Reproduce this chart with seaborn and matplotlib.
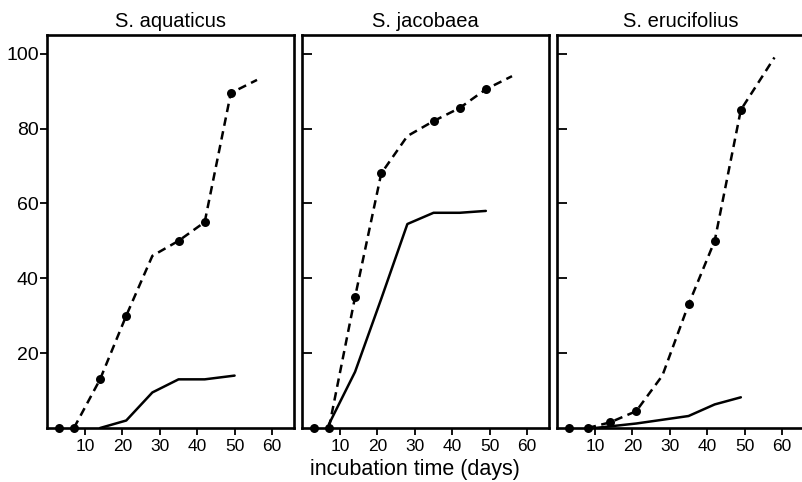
import pandas as pd
import seaborn as sns
import matplotlib.pyplot as plt

# Values (days, percent)
species = ["S. aquaticus", "S. jacobaea", "S. erucifolius"]

aquaticus_dash_days = [7, 14, 21, 28, 35, 42, 49, 56]
aquaticus_dash_vals = [0, 13, 30, 46, 50, 55, 89.5, 93]
aquaticus_dot_days = [3, 7, 14, 21, 35, 42, 49]
aquaticus_dot_vals = [0, 0, 13, 30, 50, 55, 89.5]
aquaticus_solid_days = [14, 21, 28, 35, 42, 50]
aquaticus_solid_vals = [0, 2, 9.5, 13, 13, 14]

jacobaea_dash_days = [7, 14, 21, 28, 35, 42, 49, 56]
jacobaea_dash_vals = [0, 35, 68, 78, 82, 85.5, 90.5, 94]
jacobaea_dot_days = [3, 7, 14, 21, 35, 42, 49]
jacobaea_dot_vals = [0, 0, 35, 68, 82, 85.5, 90.5]
jacobaea_solid_days = [7, 14, 21, 28, 35, 42, 49]
jacobaea_solid_vals = [1, 15, 34.5, 54.5, 57.5, 57.5, 58]

erucifolius_dash_days = [8, 14, 21, 28, 35, 42, 49, 58]
erucifolius_dash_vals = [0, 1.5, 4.5, 14, 33, 50, 85, 99]
erucifolius_dot_days = [3, 8, 14, 21, 35, 42, 49]
erucifolius_dot_vals = [0, 0, 1.5, 4.5, 33, 50, 85]
erucifolius_solid_days = [10, 21, 35, 42, 49]
erucifolius_solid_vals = [0, 1.2, 3.2, 6.3, 8.2]

x_ticks = [10, 20, 30, 40, 50, 60]
y_ticks = [20, 40, 60, 80, 100]

panels = [
    (aquaticus_dash_days, aquaticus_dash_vals, aquaticus_dot_days, aquaticus_dot_vals,
     aquaticus_solid_days, aquaticus_solid_vals),
    (jacobaea_dash_days, jacobaea_dash_vals, jacobaea_dot_days, jacobaea_dot_vals,
     jacobaea_solid_days, jacobaea_solid_vals),
    (erucifolius_dash_days, erucifolius_dash_vals, erucifolius_dot_days, erucifolius_dot_vals,
     erucifolius_solid_days, erucifolius_solid_vals),
]

sns.set_style("ticks")
plt.rcParams['font.family'] = ['Liberation Sans', 'DejaVu Sans']
plt.rcParams.update({"text.color": "black", "xtick.color": "black", "ytick.color": "black",
                     "axes.edgecolor": "black", "axes.labelcolor": "black"})

W, H = 803, 482
fig = plt.figure(figsize=(W / 100, H / 100), dpi=100)

lefts = [47, 302, 557]
for i, (left, name, p) in enumerate(zip(lefts, species, panels)):
    ax = fig.add_axes([left / W, (H - 428) / H, 247 / W, 393 / H])
    dash = pd.DataFrame({"day": p[0], "pct": p[1]})
    dots = pd.DataFrame({"day": p[2], "pct": p[3]})
    solid = pd.DataFrame({"day": p[4], "pct": p[5]})

    sns.lineplot(data=dash, x="day", y="pct", ax=ax, color="black", lw=1.8,
                 linestyle=(0, (3.4, 2.2)), estimator=None, sort=False)
    sns.scatterplot(data=dots, x="day", y="pct", ax=ax, color="black", s=42,
                    edgecolor="black", linewidth=0, zorder=5, clip_on=False)
    sns.lineplot(data=solid, x="day", y="pct", ax=ax, color="black", lw=1.8,
                 estimator=None, sort=False)

    ax.set_xlim(-0.2, 65.9)
    ax.set_ylim(0, 105)
    ax.set_xticks(x_ticks)
    ax.set_yticks(y_ticks)
    ax.set_xlabel("")
    ax.set_ylabel("")
    ax.set_title(name, fontsize=14.5, pad=6)
    for s in ax.spines.values():
        s.set_linewidth(1.9)
    ax.tick_params(axis="x", direction="out", length=5, width=1.3, labelsize=12.5, pad=3)
    if i == 0:
        ax.tick_params(axis="y", direction="out", length=5, width=1.3, labelsize=14, pad=1)
    else:
        ax.tick_params(axis="y", direction="in", length=7, width=1.3, labelleft=False)
    if i == 2:
        ax.spines["right"].set_visible(False)
    if i == 1:
        ax.set_xlabel("incubation time (days)", fontsize=15.5)
        ax.xaxis.set_label_coords(0.457, -0.078)

fig.savefig("out.png", dpi=100)
